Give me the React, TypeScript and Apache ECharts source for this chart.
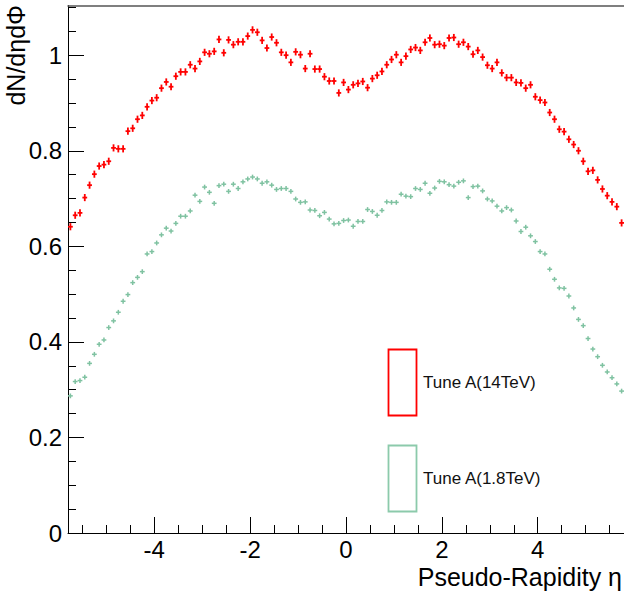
import React, { useEffect, useRef } from 'react';
import * as echarts from 'echarts';

const etaMin = -5.8;
const etaMax = 5.8;
const binWidth = 0.1;
const yMin = 0;
const yMax = 1.104;

// dN/dηdΦ per 0.1 bin in η, from η = -5.75 to 5.75
const tuneA14TeV = [
  0.641, 0.665, 0.670, 0.702, 0.728, 0.751, 0.768, 0.771, 0.778, 0.806,
  0.804, 0.804, 0.841, 0.847, 0.866, 0.874, 0.892, 0.905, 0.911, 0.931,
  0.944, 0.934, 0.956, 0.965, 0.965, 0.980, 0.972, 0.987, 1.006, 1.003,
  1.008, 1.033, 1.005, 1.032, 1.022, 1.028, 1.028, 1.040, 1.053, 1.048,
  1.031, 1.015, 1.038, 1.026, 1.006, 1.000, 0.985, 1.007, 1.001, 0.972,
  1.003, 0.971, 0.971, 0.955, 0.946, 0.946, 0.921, 0.943, 0.928, 0.938,
  0.941, 0.945, 0.932, 0.951, 0.958, 0.966, 0.980, 0.991, 1.001, 0.985,
  0.998, 1.012, 1.016, 1.010, 1.027, 1.036, 1.022, 1.023, 1.020, 1.036,
  1.037, 1.023, 1.027, 1.018, 1.002, 1.010, 0.996, 0.979, 0.972, 0.985,
  0.963, 0.953, 0.953, 0.943, 0.942, 0.931, 0.938, 0.913, 0.906, 0.901,
  0.880, 0.866, 0.845, 0.840, 0.824, 0.813, 0.800, 0.778, 0.757, 0.759,
  0.739, 0.720, 0.706, 0.693, 0.683, 0.649,
];

const tuneA18TeV = [
  0.287, 0.317, 0.319, 0.326, 0.355, 0.374, 0.395, 0.404, 0.430, 0.444,
  0.462, 0.485, 0.499, 0.524, 0.535, 0.547, 0.584, 0.589, 0.607, 0.624,
  0.638, 0.632, 0.648, 0.663, 0.663, 0.674, 0.707, 0.694, 0.724, 0.713,
  0.690, 0.727, 0.730, 0.715, 0.730, 0.721, 0.735, 0.741, 0.745, 0.741,
  0.732, 0.735, 0.728, 0.719, 0.721, 0.721, 0.715, 0.699, 0.692, 0.693,
  0.676, 0.675, 0.664, 0.671, 0.657, 0.647, 0.648, 0.654, 0.655, 0.642,
  0.652, 0.652, 0.677, 0.673, 0.665, 0.675, 0.693, 0.692, 0.692, 0.709,
  0.705, 0.704, 0.721, 0.719, 0.732, 0.711, 0.722, 0.736, 0.735, 0.729,
  0.726, 0.734, 0.737, 0.702, 0.725, 0.726, 0.716, 0.699, 0.695, 0.684,
  0.674, 0.681, 0.676, 0.653, 0.631, 0.640, 0.622, 0.610, 0.589, 0.584,
  0.552, 0.531, 0.513, 0.512, 0.496, 0.471, 0.447, 0.434, 0.407, 0.385,
  0.369, 0.351, 0.337, 0.325, 0.312, 0.297,
];

const err14TeV = 0.0075;
const err18TeV = 0.005;

const xMajorTicks = [-4, -2, 0, 2, 4];
const xMinorTicks = [-5.5, -5, -4.5, -3.5, -3, -2.5, -1.5, -1, -0.5, 0.5, 1, 1.5, 2.5, 3, 3.5, 4.5, 5, 5.5];
const yMajorTicks = [0, 0.2, 0.4, 0.6, 0.8, 1];
const yMinorTicks = [0.05, 0.1, 0.15, 0.25, 0.3, 0.35, 0.45, 0.5, 0.55, 0.65, 0.7, 0.75, 0.85, 0.9, 0.95, 1.05, 1.1];

const label14 = 'Tune A(14TeV)';
const label18 = 'Tune A(1.8TeV)';
const xTitle = 'Pseudo-Rapidity η';
const yTitle = 'dN/dηdΦ';

const RED = '#ff0000';
const GREEN = '#7fc2a1';
const GREEN_BOX = '#8ccaab';
const FONT = '"Liberation Sans", Arial, Helvetica, sans-serif';

function toPoints(values: number[], err: number) {
  return values.map((v, i) => [Math.round((etaMin + binWidth * (i + 0.5)) * 100) / 100, v, err]);
}

function crossRenderer(color: string, width: number) {
  return (params: any, api: any) => {
    const x = api.value(0);
    const y = api.value(1);
    const e = api.value(2);
    const l = api.coord([x - binWidth / 2, y]);
    const r = api.coord([x + binWidth / 2, y]);
    const b = api.coord([x, y - e]);
    const t = api.coord([x, y + e]);
    return {
      type: 'group',
      children: [
        { type: 'line', shape: { x1: l[0], y1: l[1], x2: r[0], y2: r[1] }, style: { stroke: color, lineWidth: width } },
        { type: 'line', shape: { x1: b[0], y1: b[1], x2: t[0], y2: t[1] }, style: { stroke: color, lineWidth: width } },
      ],
    };
  };
}

export default function App() {
  const ref = useRef<HTMLDivElement>(null);
  useEffect(() => {
    if (!ref.current) return;
    const chart = echarts.init(ref.current, undefined, { renderer: 'svg' });
    const gridPos = { left: 68, right: 0, top: 5.5, bottom: 58, containLabel: false };
    const labelStyle = { color: '#000', fontSize: 24, fontFamily: FONT };
    chart.setOption({
      animation: false,
      backgroundColor: '#fff',
      grid: [gridPos, gridPos],
      xAxis: [
        {
          type: 'value', gridIndex: 0, position: 'bottom', min: etaMin, max: etaMax,
          axisLine: { show: true, onZero: false, lineStyle: { color: '#000', width: 1 } },
          axisTick: { show: true, inside: true, length: 16, customValues: xMajorTicks, lineStyle: { color: '#000', width: 1 } },
          axisLabel: { show: true, customValues: xMajorTicks, margin: 4, ...labelStyle },
          splitLine: { show: false },
        },
        {
          type: 'value', gridIndex: 0, position: 'top', min: etaMin, max: etaMax,
          axisLine: { show: true, onZero: false, lineStyle: { color: '#555', width: 1.5 } },
          axisTick: { show: false }, axisLabel: { show: false }, splitLine: { show: false },
        },
        {
          type: 'value', gridIndex: 1, position: 'bottom', min: etaMin, max: etaMax,
          axisLine: { show: false, onZero: false },
          axisTick: { show: true, inside: true, length: 8, customValues: xMinorTicks, lineStyle: { color: '#000', width: 1 } },
          axisLabel: { show: false }, splitLine: { show: false },
        },
      ],
      yAxis: [
        {
          type: 'value', gridIndex: 0, position: 'left', min: yMin, max: yMax,
          axisLine: { show: true, onZero: false, lineStyle: { color: '#000', width: 1 } },
          axisTick: { show: true, inside: true, length: 16, customValues: yMajorTicks, lineStyle: { color: '#000', width: 1 } },
          axisLabel: { show: true, customValues: yMajorTicks, margin: 6, ...labelStyle },
          splitLine: { show: false },
        },
        {
          type: 'value', gridIndex: 1, position: 'left', min: yMin, max: yMax,
          axisLine: { show: false, onZero: false },
          axisTick: { show: true, inside: true, length: 8, customValues: yMinorTicks, lineStyle: { color: '#000', width: 1 } },
          axisLabel: { show: false }, splitLine: { show: false },
        },
      ],
      series: [
        {
          name: label18, type: 'custom', xAxisIndex: 0, yAxisIndex: 0,
          renderItem: crossRenderer(GREEN, 1.5), data: toPoints(tuneA18TeV, err18TeV),
        },
        {
          name: label14, type: 'custom', xAxisIndex: 0, yAxisIndex: 0,
          renderItem: crossRenderer(RED, 1.8), data: toPoints(tuneA14TeV, err14TeV),
        },
      ],
      graphic: [
        {
          type: 'text', x: 16, y: 5, rotation: Math.PI / 2,
          style: { text: yTitle, align: 'right', verticalAlign: 'middle', fill: '#000', font: `25px ${FONT}` },
        },
        {
          type: 'text', x: 622, y: 577,
          style: { text: xTitle, align: 'right', verticalAlign: 'middle', fill: '#000', font: `25px ${FONT}` },
        },
        {
          type: 'rect', shape: { x: 388.5, y: 349.5, width: 28, height: 66 },
          style: { fill: 'none', stroke: RED, lineWidth: 1.8 },
        },
        {
          type: 'text', x: 423, y: 382,
          style: { text: label14, align: 'left', verticalAlign: 'middle', fill: '#111', font: `17px ${FONT}` },
        },
        {
          type: 'rect', shape: { x: 388.5, y: 445.5, width: 28, height: 66 },
          style: { fill: 'none', stroke: GREEN_BOX, lineWidth: 1.8 },
        },
        {
          type: 'text', x: 423, y: 478,
          style: { text: label18, align: 'left', verticalAlign: 'middle', fill: '#111', font: `17px ${FONT}` },
        },
      ],
    });
    return () => chart.dispose();
  }, []);
  return <div ref={ref} style={{ position: 'fixed', left: 0, top: 0, width: 624, height: 591, background: '#fff' }} />;
}
